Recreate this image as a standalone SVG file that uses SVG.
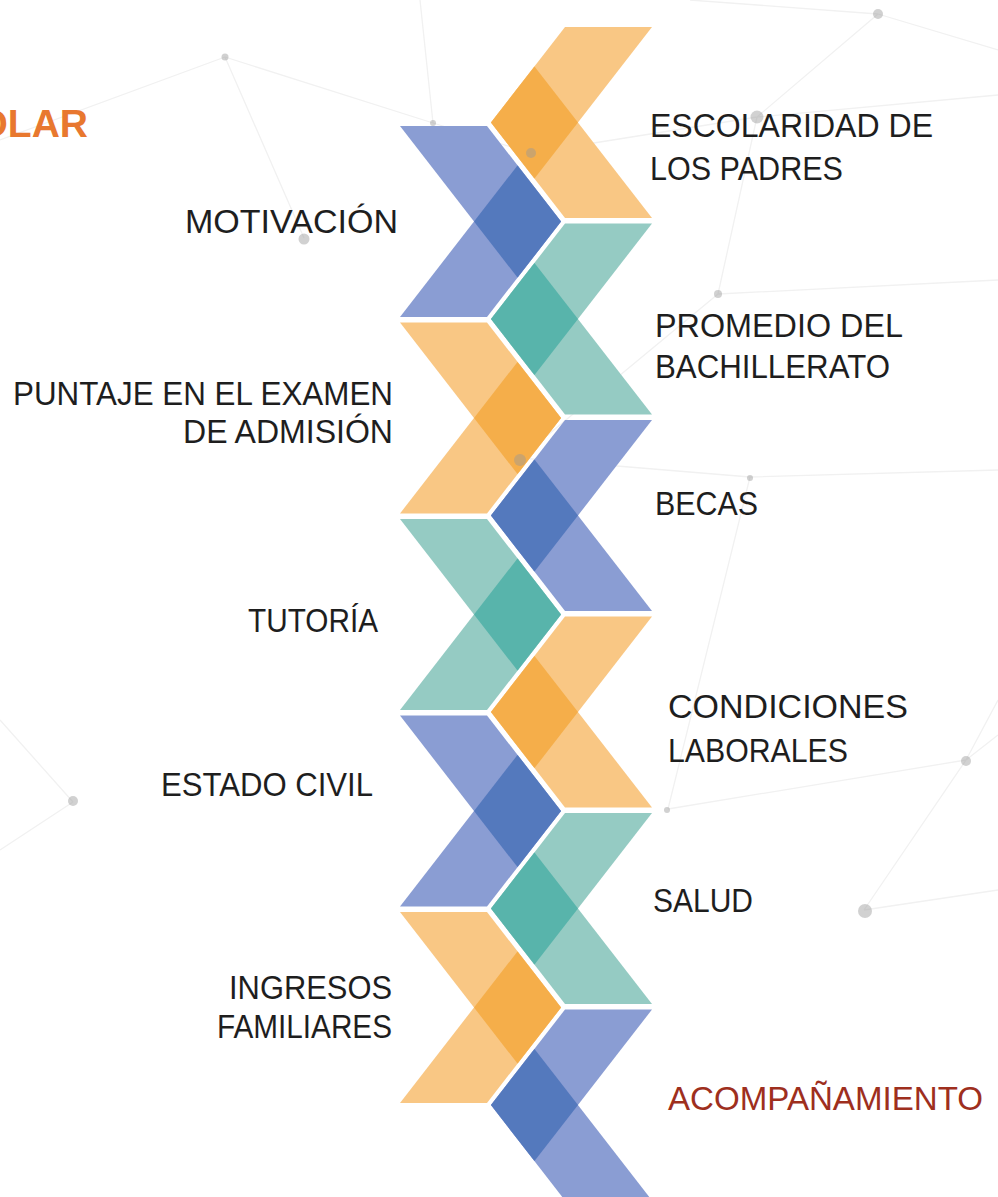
<svg xmlns="http://www.w3.org/2000/svg" xmlns:xlink="http://www.w3.org/1999/xlink" width="998" height="1197" viewBox="0 0 998 1197">
<style>
.bl{fill:#8a9dd3}.bd{fill:#5479bd}
.ol{fill:#f9c784}.od{fill:#f5ae4a}
.tl{fill:#95cbc3}.td{fill:#58b4ab}
.lbl{font-family:"Liberation Sans",Arial,sans-serif;font-size:34px;fill:#1e1e1e}
.net{stroke:#f1f1f1;stroke-width:1.3;fill:none}
.dot{fill:#999;opacity:0.45}
</style>
<defs>
<polygon id="L1" points="400,0 487,0 561,95.5 517.5,151.6"/>
<polygon id="L2" points="400,191 487,191 561,95.5 517.5,39.4"/>
<polygon id="LD" points="474,95.5 517.5,39.4 561,95.5 517.5,151.6"/>
<polygon id="R1" points="652,0 565,0 491,95.5 534.5,151.6"/>
<polygon id="R2" points="652,191 565,191 491,95.5 534.5,39.4"/>
<polygon id="RD" points="578,95.5 534.5,39.4 491,95.5 534.5,151.6"/>
</defs>
<rect width="998" height="1197" fill="#fff"/>
<g id="background">
<path class="net" d="M225,57 L433,123 M225,57 L304,238 M0,140 L225,57 M433,123 L420,0 M433,123 L531,153 M531,153 L757,117 M757,117 L878,14 M878,14 L998,50 M878,14 L690,0 M757,117 L718,294 M757,117 L998,95 M718,294 L998,280 M718,294 L520,458 M520,458 L750,477 M750,477 L998,470 M750,477 L668,809 M668,809 L966,760 M966,760 L998,735 M966,760 L864,910 M864,910 L998,890 M73,802 L0,850 M73,802 L0,720 M966,760 L998,700"/>
</g>
<g id="title">
<text x="88" y="137" text-anchor="end" font-family="Liberation Sans,Arial,sans-serif" font-weight="bold" font-size="39" fill="#e8782f">OLAR</text>
</g>
<g id="node-escolaridad" transform="translate(0,27)">
<use href="#R1" class="ol"/><use href="#R2" class="ol"/><use href="#RD" class="od"/>
</g>
<g id="node-promedio" transform="translate(0,223.5)">
<use href="#R1" class="tl"/><use href="#R2" class="tl"/><use href="#RD" class="td"/>
</g>
<g id="node-becas" transform="translate(0,420)">
<use href="#R1" class="bl"/><use href="#R2" class="bl"/><use href="#RD" class="bd"/>
</g>
<g id="node-condiciones" transform="translate(0,616.5)">
<use href="#R1" class="ol"/><use href="#R2" class="ol"/><use href="#RD" class="od"/>
</g>
<g id="node-salud" transform="translate(0,813)">
<use href="#R1" class="tl"/><use href="#R2" class="tl"/><use href="#RD" class="td"/>
</g>
<g id="node-acompanamiento" transform="translate(0,1009.5)">
<use href="#R1" class="bl"/><use href="#R2" class="bl"/><use href="#RD" class="bd"/>
</g>
<g id="node-motivacion" transform="translate(0,126)">
<use href="#L1" class="bl"/><use href="#L2" class="bl"/><use href="#LD" class="bd"/>
</g>
<g id="node-puntaje" transform="translate(0,322.5)">
<use href="#L1" class="ol"/><use href="#L2" class="ol"/><use href="#LD" class="od"/>
</g>
<g id="node-tutoria" transform="translate(0,519)">
<use href="#L1" class="tl"/><use href="#L2" class="tl"/><use href="#LD" class="td"/>
</g>
<g id="node-estado" transform="translate(0,715.5)">
<use href="#L1" class="bl"/><use href="#L2" class="bl"/><use href="#LD" class="bd"/>
</g>
<g id="node-ingresos" transform="translate(0,912)">
<use href="#L1" class="ol"/><use href="#L2" class="ol"/><use href="#LD" class="od"/>
</g>
<g id="labels">
<text class="lbl" x="650" y="137" textLength="283" lengthAdjust="spacingAndGlyphs">ESCOLARIDAD DE</text>
<text class="lbl" x="650" y="180" textLength="193" lengthAdjust="spacingAndGlyphs">LOS PADRES</text>
<text class="lbl" x="185" y="233" textLength="213" lengthAdjust="spacingAndGlyphs">MOTIVACIÓN</text>
<text class="lbl" x="655" y="337" textLength="248" lengthAdjust="spacingAndGlyphs">PROMEDIO DEL</text>
<text class="lbl" x="655" y="378" textLength="235" lengthAdjust="spacingAndGlyphs">BACHILLERATO</text>
<text class="lbl" x="13" y="405" textLength="380" lengthAdjust="spacingAndGlyphs">PUNTAJE EN EL EXAMEN</text>
<text class="lbl" x="183" y="443" textLength="210" lengthAdjust="spacingAndGlyphs">DE ADMISIÓN</text>
<text class="lbl" x="655" y="515" textLength="103" lengthAdjust="spacingAndGlyphs">BECAS</text>
<text class="lbl" x="248" y="632" textLength="130" lengthAdjust="spacingAndGlyphs">TUTORÍA</text>
<text class="lbl" x="668" y="718" textLength="240" lengthAdjust="spacingAndGlyphs">CONDICIONES</text>
<text class="lbl" x="668" y="762" textLength="180" lengthAdjust="spacingAndGlyphs">LABORALES</text>
<text class="lbl" x="161" y="796" textLength="212" lengthAdjust="spacingAndGlyphs">ESTADO CIVIL</text>
<text class="lbl" x="653" y="912" textLength="100" lengthAdjust="spacingAndGlyphs">SALUD</text>
<text class="lbl" x="229" y="999" textLength="163" lengthAdjust="spacingAndGlyphs">INGRESOS</text>
<text class="lbl" x="217" y="1038" textLength="175" lengthAdjust="spacingAndGlyphs">FAMILIARES</text>
<text class="lbl" x="668" y="1110" textLength="315" lengthAdjust="spacingAndGlyphs" style="fill:#9e2f1e">ACOMPAÑAMIENTO</text>
</g>
<g id="dots">
<circle class="dot" cx="225" cy="57" r="3.5"/>
<circle class="dot" cx="433" cy="123" r="3"/>
<circle class="dot" cx="531" cy="153" r="5"/>
<circle class="dot" cx="757" cy="117" r="6.5"/>
<circle class="dot" cx="878" cy="14" r="5"/>
<circle class="dot" cx="304" cy="239" r="5.5"/>
<circle class="dot" cx="718" cy="294" r="4"/>
<circle class="dot" cx="520" cy="460" r="6"/>
<circle class="dot" cx="750" cy="478" r="3"/>
<circle class="dot" cx="667" cy="810" r="3"/>
<circle class="dot" cx="966" cy="761" r="5"/>
<circle class="dot" cx="865" cy="911" r="7"/>
<circle class="dot" cx="73" cy="801" r="5"/>
</g>
</svg>
